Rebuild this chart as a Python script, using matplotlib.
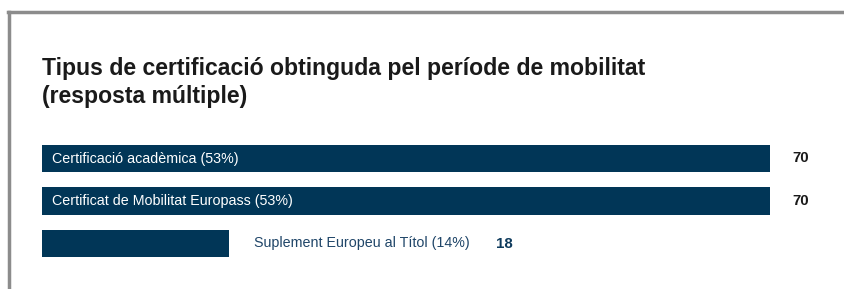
import matplotlib.pyplot as plt
from matplotlib.lines import Line2D

plt.rcParams['font.family'] = ['Liberation Sans', 'DejaVu Sans']

categories = ["Certificació acadèmica", "Certificat de Mobilitat Europass", "Suplement Europeu al Títol"]
values = [70, 70, 18]
percents = [53, 53, 14]

bar_color = "#013657"
W, H = 844, 289

fig = plt.figure(figsize=(W / 100, H / 100), dpi=100)

# gray frame at top and left
fig.add_artist(Line2D([9 / W, 9 / W], [0, 1 - 11.5 / H], color="#8c8c8c", lw=2.5))
fig.add_artist(Line2D([7.8 / W, 1], [1 - 11.5 / H, 1 - 11.5 / H], color="#8c8c8c", lw=2.5))

fig.text(42 / W, 1 - 75 / H, "Tipus de certificació obtinguda pel període de mobilitat",
         fontsize=16.6, fontweight="bold", color="#1a1a1a", va="baseline")
fig.text(42 / W, 1 - 103 / H, "(resposta múltiple)",
         fontsize=16.6, fontweight="bold", color="#1a1a1a", va="baseline")

ax = fig.add_axes([42 / W, (H - 264.75) / H, 728 / W, 127.5 / H])
y = list(range(len(categories)))
ax.barh(y, values, height=0.65, color=bar_color)
ax.set_xlim(0, max(values))
ax.set_ylim(2.5, -0.5)
ax.axis("off")

for i, (cat, v, p) in enumerate(zip(categories, values, percents)):
    label = f"{cat} ({p}%)"
    if v > 40:
        ax.annotate(label, xy=(0, i), xytext=(10, 0), textcoords="offset pixels",
                    ha="left", va="center", fontsize=10.3, color="white")
        ax.annotate(str(v), xy=(v, i), xytext=(22, 0), textcoords="offset pixels",
                    ha="left", va="center", fontsize=10.8, fontweight="bold", color="#1a1a1a")
    else:
        t = ax.annotate(label, xy=(v, i), xytext=(25, 0), textcoords="offset pixels",
                        ha="left", va="center", fontsize=10.3, color="#1f4568")
        ax.annotate(str(v), xy=(1, 0.5), xycoords=t, xytext=(26, 0), textcoords="offset pixels",
                    ha="left", va="center", fontsize=10.8, fontweight="bold", color="#0d3a5c")

fig.savefig("out.png", dpi=100)
